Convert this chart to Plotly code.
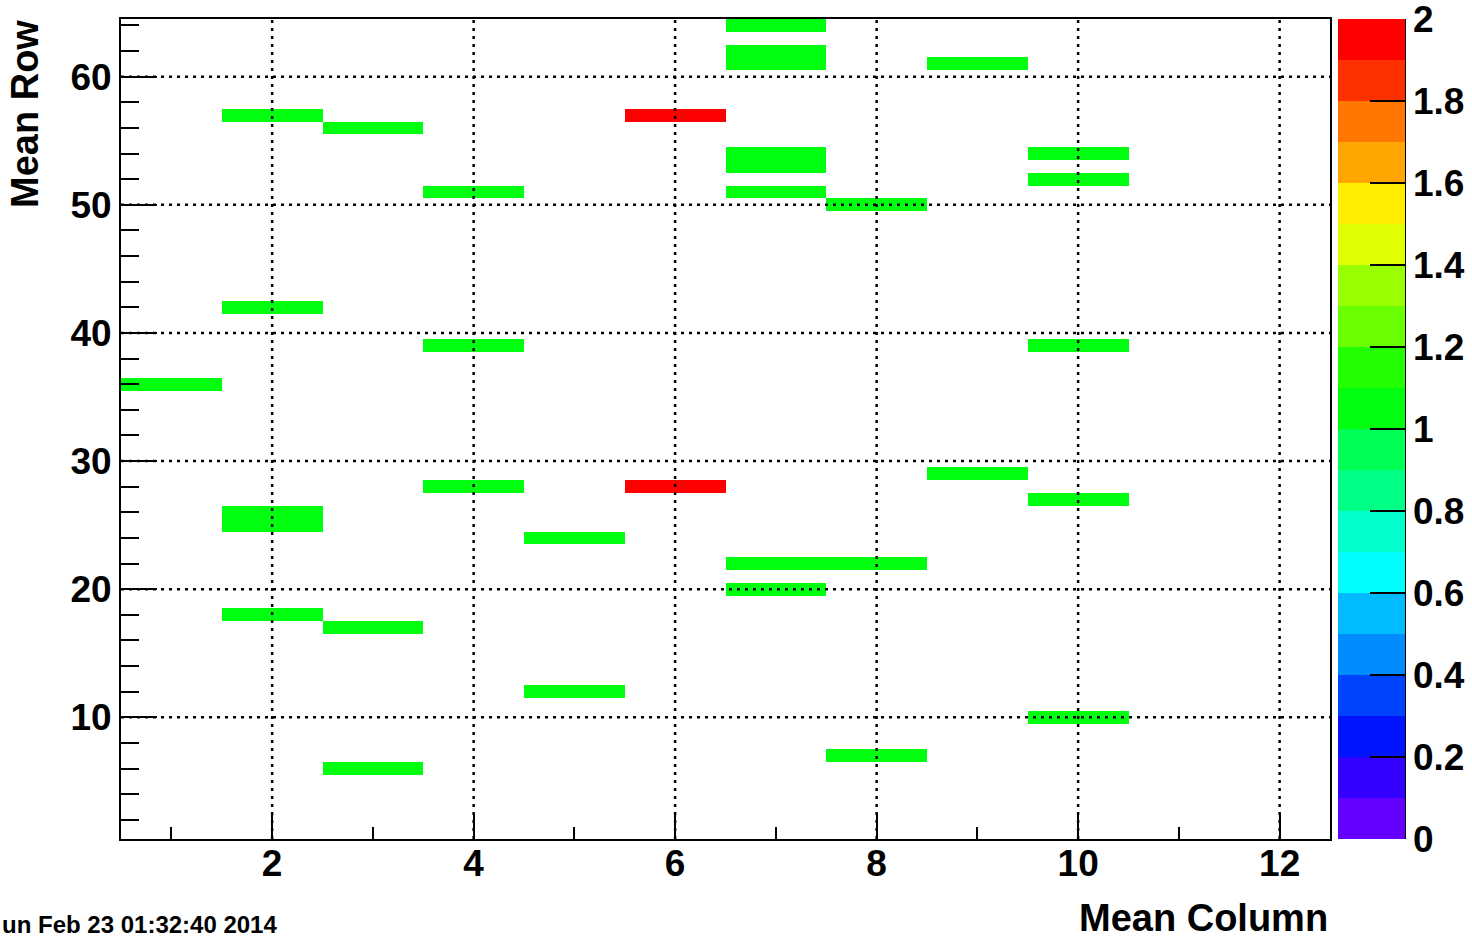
import colorsys
import plotly.graph_objects as go

# ---- data ----
columns = [7, 7, 7, 9, 2, 3, 6, 7, 7, 10, 10, 4, 7, 8, 2, 4, 10, 1, 4, 6, 9, 10, 2, 2, 5, 7, 8, 7, 2, 3, 5, 10, 8, 3]
rows = [64, 62, 61, 61, 57, 56, 57, 54, 53, 54, 52, 51, 51, 50, 42, 39, 39, 36, 28, 28, 29, 27, 26, 25, 24, 22, 22, 20, 18, 17, 12, 10, 7, 6]
values = [1, 1, 1, 1, 1, 1, 2, 1, 1, 1, 1, 1, 1, 1, 1, 1, 1, 1, 1, 2, 1, 1, 1, 1, 1, 1, 1, 1, 1, 1, 1, 1, 1, 1]
n_cols = 12
n_rows = 64
x_ticks = [2, 4, 6, 8, 10, 12]
y_ticks = [10, 20, 30, 40, 50, 60]
z_ticks = [0, 0.2, 0.4, 0.6, 0.8, 1, 1.2, 1.4, 1.6, 1.8, 2]
z_tick_labels = ["0", "0.2", "0.4", "0.6", "0.8", "1", "1.2", "1.4", "1.6", "1.8", "2"]

x_centers = list(range(1, n_cols + 1))
y_centers = list(range(1, n_rows + 1))
z = [[None] * n_cols for _ in range(n_rows)]
for c, r, v in zip(columns, rows, values):
    z[r - 1][c - 1] = v

# ROOT "pretty" palette, 20 contour levels
ndiv = 20
band_colors = []
for k in range(ndiv):
    idx = int((k + 0.99) * 50 / ndiv)
    hue = 280 - (idx + 1) * (280 / 50)
    r_, g_, b_ = colorsys.hls_to_rgb(hue / 360.0, 0.5, 1.0)
    band_colors.append(f"rgb({round(r_*255)},{round(g_*255)},{round(b_*255)})")
eps = 1e-6
cscale = []
for k, col in enumerate(band_colors):
    lo = 0.0 if k == 0 else k / ndiv - eps
    hi = 1.0 if k == ndiv - 1 else (k + 1) / ndiv - eps
    cscale.append([lo, col])
    cscale.append([hi, col])

FONT = "Liberation Sans, Arial, Helvetica, sans-serif"

L, R, T, B = 121, 1330, 19, 839
W, H = 1472, 942
pw, ph = R - L, B - T

# keep the top label inside the colour-bar axis range
cb_tickvals = [min(v, 2 - 1e-6) for v in z_ticks]

fig = go.Figure()
fig.add_trace(go.Heatmap(
    x=x_centers, y=y_centers, z=z,
    zmin=0, zmax=2, colorscale=cscale, hoverongaps=False,
    colorbar=dict(
        x=(1338 - L) / pw, xanchor="left", xpad=0,
        y=0.5, yanchor="middle", len=1, ypad=0,
        thickness=67, outlinewidth=0,
        tickmode="array", tickvals=cb_tickvals, ticktext=z_tick_labels,
        ticklabeloverflow="allow",
        ticks="inside", ticklen=35, tickwidth=2, tickcolor="black",
        tickfont=dict(family=FONT, size=37, color="black", weight="bold"),
    ),
))

# dotted grid drawn above the cells
dot = "3px,5px"
for xv in x_ticks:
    fig.add_shape(type="line", xref="x", yref="paper", x0=xv, x1=xv, y0=0, y1=1,
                  line=dict(color="black", width=2.5, dash=dot), layer="above")
for yv in y_ticks:
    fig.add_shape(type="line", xref="paper", yref="y", x0=0, x1=1, y0=yv, y1=yv,
                  line=dict(color="black", width=2.5, dash=dot), layer="above")
# palette axis line
cbx = (1405 - L) / pw
fig.add_shape(type="line", xref="paper", yref="paper", x0=cbx, x1=cbx, y0=0, y1=1,
              line=dict(color="black", width=2))

axis_font = dict(family=FONT, size=37, color="black", weight="bold")
fig.update_xaxes(
    range=[0.5, n_cols + 0.5], tickmode="array", tickvals=x_ticks,
    ticks="inside", ticklen=25, tickwidth=2, tickcolor="black",
    minor=dict(ticks="inside", ticklen=12, tickwidth=2, tickcolor="black", dtick=1, tick0=0),
    showgrid=False, zeroline=False, showline=True, linewidth=2, linecolor="black",
    mirror=True, layer="above traces", tickfont=axis_font, ticklabelstandoff=-9,
)
fig.update_yaxes(
    range=[0.5, n_rows + 0.5], tickmode="array", tickvals=y_ticks,
    ticks="inside", ticklen=36, tickwidth=2, tickcolor="black",
    minor=dict(ticks="inside", ticklen=18, tickwidth=2, tickcolor="black", dtick=2, tick0=0),
    showgrid=False, zeroline=False, showline=True, linewidth=2, linecolor="black",
    mirror=True, layer="above traces", tickfont=axis_font,
)

title_font = dict(family=FONT, size=38, color="black", weight="bold")
fig.add_annotation(text="Mean Row", xref="paper", yref="paper",
                   x=-(L - 25) / pw, y=(B - 18) / ph, xanchor="center", yanchor="top",
                   textangle=-90, showarrow=False, font=title_font)
fig.add_annotation(text="Mean Column", xref="paper", yref="paper",
                   x=1, y=-(918 - B) / ph, xanchor="right", yanchor="middle",
                   showarrow=False, font=title_font)
fig.add_annotation(text="un Feb 23 01:32:40 2014", xref="paper", yref="paper",
                   x=-L / pw, y=-(924 - B) / ph, xanchor="left", yanchor="middle",
                   showarrow=False, font=dict(family=FONT, size=24, color="black", weight="bold"))

fig.update_layout(
    width=W, height=H,
    margin=dict(l=L, r=W - R, t=T, b=H - B, pad=0, autoexpand=False),
    paper_bgcolor="white", plot_bgcolor="white",
    showlegend=False,
)

fig.write_html("out.html", config={"displayModeBar": False},
               post_script="document.body.style.margin='0px';")
